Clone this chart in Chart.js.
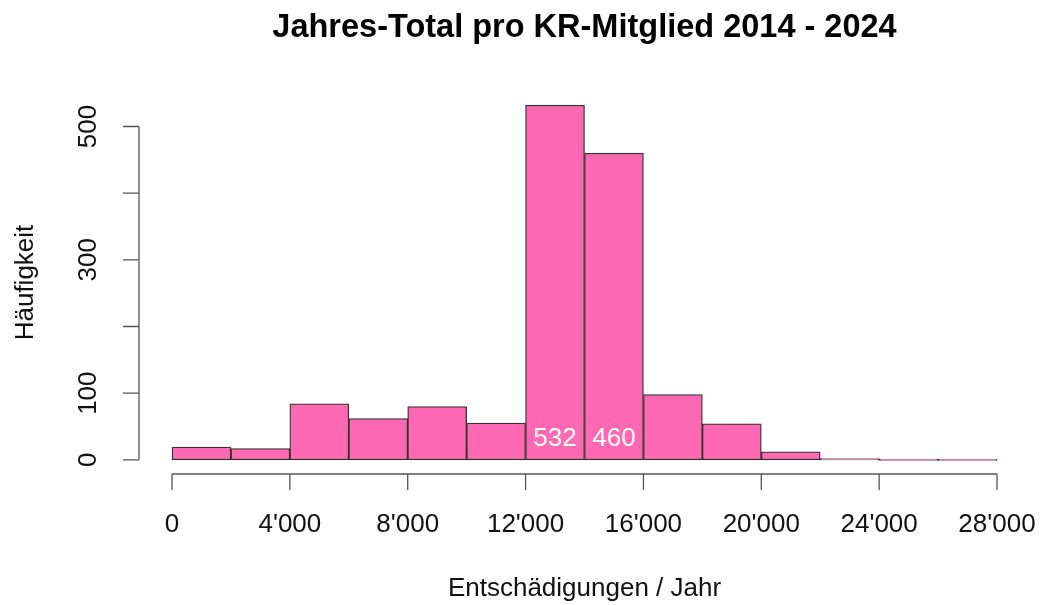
<!DOCTYPE html>
<html>
<head>
<meta charset="utf-8">
<script src="https://cdn.jsdelivr.net/npm/chart.js@4.4.1/dist/chart.umd.min.js"></script>
<style>
  html, body { margin: 0; padding: 0; background: #fff; }
  #wrap { width: 1049px; height: 605px; }
</style>
</head>
<body>
<div id="wrap"><canvas id="hist"></canvas></div>
<script>
// histogram bins (2'000 wide) and counts
var binStarts = [0, 2000, 4000, 6000, 8000, 10000, 12000, 14000, 16000, 18000, 20000, 22000, 24000, 26000];
var counts = [19, 17, 84, 62, 80, 55, 532, 460, 98, 54, 12, 2, 0, 0];
var binWidth = 2000;
var xTicks = [0, 4000, 8000, 12000, 16000, 20000, 24000, 28000];
var yTicks = [0, 100, 200, 300, 400, 500];
var yTickLabels = ['0', '100', '', '300', '', '500'];
var labelledBins = [6, 7];

var fmt = (v) => String(v).replace(/\B(?=(\d{3})+(?!\d))/g, "'");

var font = "'Liberation Sans', Arial, Helvetica, sans-serif";

var rAxes = {
  id: 'rAxes',
  afterDraw: (chart) => {
    let ctx = chart.ctx;
    let x = chart.scales.x, y = chart.scales.y;
    let area = chart.chartArea;
    ctx.save();
    ctx.strokeStyle = '#555';
    ctx.lineWidth = 1.3;
    ctx.fillStyle = '#111';

    // x axis
    let ax = area.bottom;
    ctx.beginPath();
    ctx.moveTo(x.getPixelForValue(xTicks[0]), ax);
    ctx.lineTo(x.getPixelForValue(xTicks[xTicks.length - 1]), ax);
    xTicks.forEach(t => {
      let px = x.getPixelForValue(t);
      ctx.moveTo(px, ax);
      ctx.lineTo(px, ax + 16);
    });
    ctx.stroke();
    ctx.font = '26px ' + font;
    ctx.textAlign = 'center';
    ctx.textBaseline = 'middle';
    xTicks.forEach(t => ctx.fillText(fmt(t), x.getPixelForValue(t), ax + 51));

    // y axis
    let ay = area.left;
    ctx.beginPath();
    ctx.moveTo(ay, y.getPixelForValue(yTicks[0]));
    ctx.lineTo(ay, y.getPixelForValue(yTicks[yTicks.length - 1]));
    yTicks.forEach(t => {
      let py = y.getPixelForValue(t);
      ctx.moveTo(ay, py);
      ctx.lineTo(ay - 16, py);
    });
    ctx.stroke();
    yTicks.forEach((t, i) => {
      ctx.save();
      ctx.translate(ay - 50, y.getPixelForValue(t));
      ctx.rotate(-Math.PI / 2);
      ctx.fillText(yTickLabels[i], 0, 0);
      ctx.restore();
    });

    // axis titles
    ctx.fillText('Entschädigungen / Jahr', (area.left + area.right) / 2, 589);
    ctx.save();
    ctx.translate(26, (area.top + area.bottom) / 2);
    ctx.rotate(-Math.PI / 2);
    ctx.fillText('Häufigkeit', 0, 0);
    ctx.restore();

    // main title
    ctx.font = 'bold 32.5px ' + font;
    ctx.fillStyle = '#000';
    ctx.fillText('Jahres-Total pro KR-Mitglied 2014 - 2024', (area.left + area.right) / 2, 28);

    // counts inside the two big bars
    ctx.font = '26px ' + font;
    ctx.fillStyle = '#fff';
    labelledBins.forEach(i => {
      ctx.fillText(String(counts[i]), x.getPixelForValue(binStarts[i] + binWidth / 2), y.getPixelForValue(32));
    });
    ctx.restore();
  }
};

// R pads the axis ranges by 4 %
var xMin = 0, xMax = 28000, yMax = Math.max(...counts);
var xPad = (xMax - xMin) * 0.04, yPad = yMax * 0.04;

new Chart(document.getElementById('hist'), {
  type: 'bar',
  data: {
    datasets: [{
      data: binStarts.map((b, i) => ({ x: b + binWidth / 2, y: counts[i] })),
      backgroundColor: '#FF69B4',
      borderColor: '#333',
      borderWidth: 1.3,
      borderSkipped: false,
      minBarLength: 1,
      barPercentage: 1,
      categoryPercentage: 1
    }]
  },
  options: {
    responsive: true,
    maintainAspectRatio: false,
    animation: false,
    layout: { padding: { left: 139, right: 19, top: 91, bottom: 131 } },
    plugins: { legend: { display: false }, tooltip: { enabled: false }, title: { display: false } },
    scales: {
      x: { type: 'linear', display: false, offset: false, min: xMin - xPad, max: xMax + xPad },
      y: { display: false, min: -yPad, max: yMax + yPad }
    }
  },
  plugins: [rAxes]
});
</script>
</body>
</html>
